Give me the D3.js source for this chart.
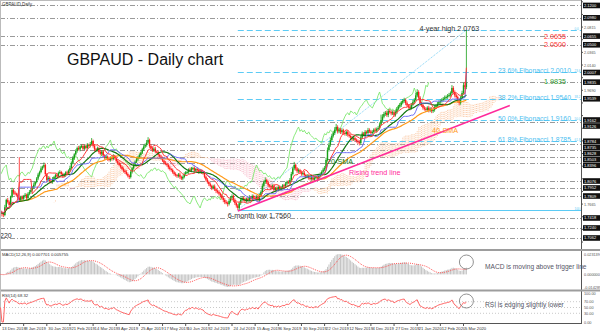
<!DOCTYPE html>
<html>
<head>
<meta charset="utf-8">
<script src="https://cdn.jsdelivr.net/npm/d3@7"></script>
<style>
  body { margin: 0; background: #fff; }
  svg { display: block; font-family: "Liberation Sans", Arial, sans-serif; }
</style>
</head>
<body>
<svg id="chart" width="600" height="332"></svg>
<script>
// ---- GBPAUD daily data (13 Dec 2018 – 9 Mar 2020) ----
const dateLabels = ["13 Dec 2018","8 Jan 2019","30 Jan 2019","21 Feb 2019","14 Mar 2019","3 Apr 2019",
  "25 Apr 2019","17 May 2019","10 Jun 2019","2 Jul 2019","24 Jul 2019","15 Aug 2019","6 Sep 2019",
  "30 Sep 2019","22 Oct 2019","12 Nov 2019","4 Dec 2019","27 Dec 2019","21 Jan 2020","12 Feb 2020","5 Mar 2020"];
const barsPerLabel = 16;

const firstOpen = 1.7560;
const closes = [1.7525,1.7490,1.7471,1.7610,1.7740,1.7700,1.7650,1.7800,1.7916,1.7870,
1.7850,1.7830,1.7780,1.7738,1.7790,1.7760,1.7809,1.7830,1.7774,1.7850,
1.7880,1.7916,1.7960,1.8010,1.8058,1.8120,1.8190,1.8236,1.8300,1.8330,
1.8361,1.8200,1.8094,1.8130,1.8070,1.8058,1.8110,1.8147,1.8180,1.8160,
1.8220,1.8236,1.8200,1.8165,1.8183,1.8230,1.8210,1.8260,1.8307,1.8400,
1.8485,1.8550,1.8610,1.8663,1.8640,1.8690,1.8699,1.8650,1.8700,1.8663,
1.8720,1.8700,1.8734,1.8788,1.8700,1.8640,1.8628,1.8660,1.8592,1.8560,
1.8600,1.8530,1.8485,1.8510,1.8470,1.8450,1.8490,1.8470,1.8520,1.8485,
1.8430,1.8400,1.8361,1.8330,1.8290,1.8260,1.8236,1.8200,1.8170,1.8147,
1.8240,1.8300,1.8361,1.8420,1.8460,1.8500,1.8539,1.8580,1.8640,1.8690,
1.8717,1.8760,1.8806,1.8700,1.8663,1.8620,1.8650,1.8600,1.8592,1.8540,
1.8510,1.8485,1.8440,1.8400,1.8380,1.8361,1.8320,1.8290,1.8272,1.8230,
1.8200,1.8180,1.8165,1.8190,1.8150,1.8120,1.8147,1.8200,1.8230,1.8236,
1.8280,1.8260,1.8300,1.8307,1.8260,1.8290,1.8272,1.8240,1.8260,1.8230,
1.8219,1.8150,1.8100,1.8058,1.8020,1.7990,1.7952,1.7980,1.7930,1.7900,
1.7880,1.7850,1.7820,1.7774,1.7740,1.7700,1.7690,1.7667,1.7720,1.7780,
1.7809,1.7740,1.7685,1.7640,1.7596,1.7680,1.7740,1.7774,1.7750,1.7720,
1.7760,1.7738,1.7790,1.7760,1.7809,1.7780,1.7760,1.7800,1.7738,1.7820,
1.7880,1.7990,1.8060,1.8094,1.8050,1.8000,1.7987,1.7960,1.7990,1.7916,
1.7950,1.7920,1.7970,1.7934,1.7960,1.8000,1.7987,1.8030,1.8060,1.8050,
1.8094,1.8200,1.8300,1.8361,1.8300,1.8250,1.8270,1.8236,1.8200,1.8220,
1.8183,1.8150,1.8170,1.8130,1.8112,1.8140,1.8100,1.8130,1.8150,1.8120,
1.8165,1.8200,1.8240,1.8280,1.8307,1.8450,1.8628,1.8720,1.8806,1.8880,
1.8930,1.8990,1.9037,1.8960,1.8990,1.8948,1.8980,1.8930,1.8912,1.8950,
1.8900,1.8877,1.8850,1.8820,1.8840,1.8806,1.8790,1.8770,1.8752,1.8850,
1.8920,1.8895,1.8950,1.8930,1.8984,1.8960,1.8930,1.8948,1.8990,1.8970,
1.9000,1.9019,1.9080,1.9162,1.9220,1.9268,1.9290,1.9250,1.9320,1.9304,
1.9280,1.9300,1.9251,1.9300,1.9360,1.9400,1.9428,1.9470,1.9500,1.9517,
1.9460,1.9420,1.9400,1.9375,1.9430,1.9480,1.9517,1.9600,1.9660,1.9560,
1.9450,1.9428,1.9380,1.9360,1.9340,1.9380,1.9330,1.9360,1.9320,1.9340,
1.9390,1.9411,1.9450,1.9480,1.9500,1.9517,1.9540,1.9560,1.9571,1.9590,
1.9606,1.9640,1.9731,1.9660,1.9600,1.9571,1.9510,1.9464,1.9560,1.9642,
1.9780,1.9750,1.9835];

// upper / lower shadow lengths in pips
const upWick = [25,18,30,42,20,35,28,15,40,22,30,18,26,720,24,30,19,33,21,27,
35,22,28,40,18,26,31,24,38,20,45,29,17,33,25,22,36,19,28,30,
24,32,20,27,35,18,29,23,41,26,33,21,30,25,38,19,27,34,22,28,
31,20,36,52,25,30,22,28,19,34,26,31,23,29,20,37,24,28,33,21,
26,30,22,35,19,28,24,31,27,20,33,25,29,22,36,24,30,21,27,34,
28,45,50,24,31,22,27,35,20,29,23,32,26,19,30,24,28,33,21,27,
25,30,22,28,34,20,27,31,24,29,22,36,26,23,30,19,28,25,32,21,
27,33,22,29,25,30,21,28,34,24,26,31,20,27,23,29,35,22,40,25,
30,24,28,22,26,33,21,29,25,31,22,27,34,20,28,24,30,23,26,35,
29,40,26,45,24,31,22,28,25,33,21,27,30,24,29,22,26,31,23,28,
34,38,30,55,27,24,31,22,28,26,33,20,29,25,30,23,27,32,21,28,
25,30,27,33,35,40,45,38,42,36,40,44,55,30,35,28,33,26,31,24,
29,27,32,25,30,22,28,26,33,30,36,28,32,25,37,29,26,31,24,35,
28,33,40,95,45,38,32,40,30,36,28,33,27,35,31,29,37,30,34,40,
28,32,26,30,35,38,33,45,50,30,27,33,25,29,31,26,34,28,30,27,
32,29,35,30,28,33,31,36,29,34,38,30,52,33,28,31,27,35,30,40,
45,60,928];
const dnWick = [30,45,38,22,35,26,40,31,24,36,28,33,22,30,27,35,21,29,38,25,
28,33,20,26,31,24,29,35,22,30,27,38,45,28,33,26,30,24,32,27,
35,22,29,31,26,33,24,28,30,22,27,34,25,30,23,36,28,31,26,24,
29,33,27,25,30,38,34,26,31,28,35,24,30,27,33,25,29,32,26,30,
28,34,25,31,27,29,33,24,30,36,26,31,22,28,25,33,27,30,24,29,
26,30,24,33,38,29,27,31,25,34,28,30,26,32,24,29,35,27,31,25,
30,26,33,28,35,27,31,24,29,26,34,22,28,31,25,30,27,33,24,29,
31,27,34,29,35,30,38,26,32,40,28,33,36,30,41,35,28,45,26,30,
33,40,35,38,36,36,30,28,33,26,31,29,25,32,27,30,34,26,29,31,
25,30,27,33,29,35,28,31,26,30,24,33,28,31,27,29,25,32,28,30,
27,31,26,33,40,35,30,28,31,27,33,29,26,30,28,32,27,31,25,29,
28,26,30,27,32,25,30,28,34,26,31,35,29,40,33,36,30,34,28,32,
35,30,33,38,29,34,31,36,42,28,30,26,33,29,27,31,34,28,30,26,
32,29,30,26,35,28,33,31,38,29,34,30,36,28,31,27,30,33,29,32,
35,30,37,42,29,27,31,26,33,40,38,34,36,31,35,30,33,29,36,32,
30,28,33,27,31,29,26,30,28,33,27,31,29,35,37,33,40,42,31,28,
30,35,40];

// horizontal support / resistance levels
const grayLevels = [2.1200,2.0980,2.0655,2.0500,1.9835,1.9126,1.8735,1.8628,1.8503,1.8396,
  1.8076,1.7952,1.7809,1.7418,1.7240,1.7062];
// Fibonacci retracement of the Aug 2019 low -> Mar 2020 high
const fibLow = {bar: 164, price: 1.7560};
const fibHigh = {bar: 322, price: 2.0763};
const fibRatios = [0, 0.236, 0.382, 0.5, 0.618, 1];
const fibTexts = [null, "23.6% Fibonacci 2.0010", "38.2% Fibonacci 1.9540", "50.0% Fibonacci 1.9160", "61.8% Fibonacci 1.8785", null];
const fibTags = ["0.0", "23.6", "38.2", "50.0", "61.8", "100.0"];
const trendLine = [{bar: 164, price: 1.7540}, {bar: 352, price: 1.9420}];
const redLevels = [2.0655, 2.0500];
const lastPrice = 1.9835;
const priceTicks = [2.1265,2.1040,2.0815,2.0590,2.0365,2.0140,1.9915,1.9690,1.9465,1.9240,1.9015,
  1.8790,1.8565,1.8340,1.8115,1.7890,1.7665,1.7440,1.7215,1.6990];
const rsiLevels = [70, 50, 30];
const rsiTicks = [100, 70, 50, 30, 0];

// ---- derived series ----
const PIP = 0.0001;
const n = closes.length;
const opens = closes.map((c, i) => i === 0 ? firstOpen : closes[i - 1]);
const highs = closes.map((c, i) => Math.max(opens[i], c) + upWick[i] * PIP);
const lows = closes.map((c, i) => Math.min(opens[i], c) - dnWick[i] * PIP);

function sma(arr, p) {
  return arr.map((_, i) => d3.mean(arr.slice(Math.max(0, i - p + 1), i + 1)));
}
function midRange(p) {
  return closes.map((_, i) => {
    const s = Math.max(0, i - p + 1);
    return (d3.max(highs.slice(s, i + 1)) + d3.min(lows.slice(s, i + 1))) / 2;
  });
}
function ema(arr, p) {
  const k = 2 / (p + 1); let e = arr[0];
  return arr.map(v => (e = e + k * (v - e)));
}
const sma20 = sma(closes, 20), sma40 = sma(closes, 40);
const tenkan = midRange(9), kijun = midRange(26), spanB = midRange(52);
const spanA = tenkan.map((t, i) => (t + kijun[i]) / 2);
const e12 = ema(closes, 12), e26 = ema(closes, 26);
const macd = e12.map((v, i) => v - e26[i]);
const signal = sma(macd, 9);
const rsi = [50];
{
  let ag = 0, al = 0;
  for (let i = 1; i < n; i++) {
    const ch = closes[i] - closes[i - 1];
    const g = Math.max(ch, 0), l = Math.max(-ch, 0);
    if (i <= 14) { ag = (ag * (i - 1) + g) / i; al = (al * (i - 1) + l) / i; }
    else { ag = (ag * 13 + g) / 14; al = (al * 13 + l) / 14; }
    rsi.push(al === 0 ? 100 : 100 - 100 / (1 + ag / al));
  }
}

// ---- layout ----
const svg = d3.select("#chart");
const axisX = 581;
const main = {top: 0, bottom: 249};
const rsiP = {top: 292, bottom: 322};

const x = d3.scaleLinear().domain([0, (dateLabels.length - 1) * barsPerLabel]).range([0.5, 463.5]);
const y = d3.scaleLinear().domain([1.6866, 2.1297]).range([main.bottom, main.top]);
const mExt = d3.extent(macd.concat(signal));
const yM = d3.scaleLinear().domain(mExt).range([287, 254]);
const yR = d3.scaleLinear().domain([0, 100]).range([rsiP.bottom, rsiP.top + 1]);

const defs = svg.append("defs");
defs.append("clipPath").attr("id", "clipMain").append("rect")
  .attr("x", 0).attr("y", main.top).attr("width", axisX).attr("height", main.bottom - main.top);

const gMain = svg.append("g").attr("clip-path", "url(#clipMain)");

// support / resistance levels
gMain.selectAll("line.lvl").data(grayLevels).join("line")
  .attr("x1", 0).attr("x2", axisX)
  .attr("y1", d => Math.round(y(d)) + 0.5).attr("y2", d => Math.round(y(d)) + 0.5)
  .attr("stroke", "#9a9a9a").attr("stroke-width", 1).attr("stroke-dasharray", "5,2,1,2");

// Ichimoku cloud, shifted 26 bars ahead
const cloud = gMain.append("g").attr("opacity", 0.75);
for (let i = 0; i < n; i++) {
  const xb = x(i + 26);
  cloud.append("line")
    .attr("x1", xb).attr("x2", xb)
    .attr("y1", y(spanA[i])).attr("y2", y(spanB[i]))
    .attr("stroke", spanA[i] >= spanB[i] ? "#f9b98a" : "#f7a9bd")
    .attr("stroke-width", 1).attr("stroke-dasharray", "1,1");
}

// Fibonacci levels
const fibRange = fibHigh.price - fibLow.price;
const fibVals = fibRatios.map(r => fibHigh.price - r * fibRange);
gMain.selectAll("line.fib").data(fibVals).join("line")
  .attr("x1", x(fibLow.bar)).attr("x2", axisX)
  .attr("y1", d => Math.round(y(d)) + 0.5).attr("y2", d => Math.round(y(d)) + 0.5)
  .attr("stroke", "#5ccbf5").attr("stroke-width", 1)
  .attr("stroke-dasharray", (d, i) => i === fibVals.length - 1 ? null : "6,3");
gMain.append("line")
  .attr("x1", x(fibLow.bar)).attr("y1", y(fibLow.price))
  .attr("x2", x(fibHigh.bar)).attr("y2", y(fibHigh.price))
  .attr("stroke", "#7fd3f7").attr("stroke-width", 1).attr("stroke-dasharray", "1,1");

// Chikou span (close shifted 26 bars back)
const lineOf = (arr, shift, ys) => d3.line().x((d, i) => x(i + shift)).y(d => ys(d))(arr);
gMain.append("path").attr("d", lineOf(closes.slice(26), 0, y))
  .attr("fill", "none").attr("stroke", "#7ee86f").attr("stroke-width", 0.9);

// candles
const cand = gMain.append("g");
for (let i = 0; i < n; i++) {
  const up = closes[i] >= opens[i];
  const col = up ? "#16a016" : "#ff1a1a";
  const xc = x(i);
  cand.append("line").attr("x1", xc).attr("x2", xc)
    .attr("y1", y(highs[i])).attr("y2", y(lows[i]))
    .attr("stroke", col).attr("stroke-width", 0.8);
  const yt = y(Math.max(opens[i], closes[i])), yb = y(Math.min(opens[i], closes[i]));
  cand.append("rect").attr("x", xc - 0.7).attr("width", 1.4)
    .attr("y", yt).attr("height", Math.max(1, yb - yt)).attr("fill", col);
}

// moving averages and Ichimoku lines
[[sma40, "#ff9a1a", 1.2], [sma20, "#117711", 1.2], [kijun, "#6d6df5", 1], [tenkan, "#ff3b3b", 1]]
  .forEach(([arr, col, w]) => {
    gMain.append("path").attr("d", lineOf(arr, 0, y))
      .attr("fill", "none").attr("stroke", col).attr("stroke-width", w);
  });

// rising trend line
gMain.append("line")
  .attr("x1", x(trendLine[0].bar)).attr("y1", y(trendLine[0].price))
  .attr("x2", x(trendLine[1].bar)).attr("y2", y(trendLine[1].price))
  .attr("stroke", "#ff2a9a").attr("stroke-width", 1.6);

// ---- annotations ----
svg.append("text").attr("x", 2).attr("y", 6).attr("font-size", 4.5).attr("fill", "#333").text("GBPAUD,Daily");
svg.append("text").attr("x", 67).attr("y", 65).attr("font-size", 16).attr("fill", "#111").text("GBPAUD - Daily chart");
svg.append("text").attr("x", 0).attr("y", 238).attr("font-size", 7).attr("fill", "#333").text("220");

const ann = (t, xx, yy, col, anchor, fs) => svg.append("text").attr("x", xx).attr("y", yy)
  .attr("font-size", fs || 7.2).attr("fill", col).attr("text-anchor", anchor || "start").text(t);
ann("4-year high " + fibHigh.price.toFixed(4), x(fibHigh.bar) - 47, y(fibHigh.price) + 1, "#333");
ann("6-month low " + fibLow.price.toFixed(4), x(fibLow.bar) - 10, y(fibLow.price) + 8, "#333");
redLevels.forEach(v => ann(v.toFixed(4), 566, y(v) + 2.5, "#ff3333", "end"));
ann(lastPrice.toFixed(4), 566, y(lastPrice) + 1.5, "#2e9a2e", "end");
fibTexts.forEach((t, i) => { if (t) ann(t, 498, y(fibVals[i]) + 1, "#4cc0f0", "start", 6.8); });
fibTags.forEach((t, i) => svg.append("text").attr("x", 574.5).attr("y", y(fibVals[i]) - 0.5)
  .attr("font-size", 3).attr("fill", "#5ccbf5").text(t));
ann("40-SMA", 432, 133, "#ff9a1a");
ann("20-SMA", 327, 164, "#117711");
ann("Rising trend line", 349, 175, "#ff2a9a");

// ---- price axis ----
svg.append("rect").attr("x", axisX).attr("y", 0).attr("width", 600 - axisX).attr("height", 332).attr("fill", "#fff");
svg.append("line").attr("x1", axisX + 0.5).attr("x2", axisX + 0.5).attr("y1", 0).attr("y2", 323)
  .attr("stroke", "#555").attr("stroke-width", 1);

// boxed level labels, spread so neighbouring boxes do not collide
const boxLevels = grayLevels.concat(fibVals.slice(1, 5)).sort((a, b) => b - a);
let prevY = -10;
const boxYs = boxLevels.map(v => {
  const yy = Math.max(y(v), prevY + 6);
  prevY = yy;
  return yy;
});
priceTicks.forEach(v => {
  const yy = y(v);
  svg.append("line").attr("x1", axisX).attr("x2", axisX + 2).attr("y1", yy).attr("y2", yy).attr("stroke", "#555");
  if (boxYs.every(b => Math.abs(b - yy) > 6)) {
    svg.append("text").attr("x", axisX + 3).attr("y", yy + 1.5).attr("font-size", 3.8).attr("fill", "#555").text(v.toFixed(4));
  }
});
boxLevels.forEach((v, k) => {
  svg.append("rect").attr("x", axisX + 2).attr("y", boxYs[k] - 2.8).attr("width", 17).attr("height", 5.6).attr("fill", "#111");
  svg.append("text").attr("x", axisX + 3).attr("y", boxYs[k] + 1.5).attr("font-size", 4).attr("fill", "#fff").text(v.toFixed(4));
});

// panel separators
[[249, 2], [289.5, 2]].forEach(([yy, h]) => svg.append("rect").attr("x", 0).attr("y", yy).attr("width", 600).attr("height", h).attr("fill", "#9d9d9d"));
svg.append("line").attr("x1", 0).attr("x2", axisX).attr("y1", 0.5).attr("y2", 0.5).attr("stroke", "#bbb");
svg.append("line").attr("x1", 0.5).attr("x2", 0.5).attr("y1", 0).attr("y2", 323).attr("stroke", "#bbb");

// ---- MACD panel ----
const gM = svg.append("g");
for (let i = 0; i < n; i++) {
  const y0 = yM(0), y1 = yM(macd[i]);
  gM.append("rect").attr("x", x(i) - 0.5).attr("width", 1)
    .attr("y", Math.min(y0, y1)).attr("height", Math.abs(y1 - y0)).attr("fill", "#c4c4c4");
}
gM.append("path").attr("d", lineOf(signal, 0, yM)).attr("fill", "none")
  .attr("stroke", "#ff5555").attr("stroke-width", 1).attr("stroke-dasharray", "1,1");
svg.append("text").attr("x", 2).attr("y", 256).attr("font-size", 4.2).attr("fill", "#333")
  .text("MACD(12,26,9) " + macd[n - 1].toFixed(6) + " " + signal[n - 1].toFixed(6));
[mExt[1], 0, mExt[0]].forEach(v => {
  svg.append("text").attr("x", axisX + 3).attr("y", yM(v) + 1.5).attr("font-size", 3.8).attr("fill", "#555").text(v.toFixed(6));
});
svg.append("circle").attr("cx", x(n - 1)).attr("cy", 262).attr("r", 7).attr("fill", "none").attr("stroke", "#777").attr("stroke-width", 0.8);
svg.append("text").attr("x", 485).attr("y", 269).attr("font-size", 6.6).attr("fill", "#556").text("MACD is moving above trigger line");

// ---- RSI panel ----
rsiLevels.forEach(v => svg.append("line").attr("x1", 0).attr("x2", axisX).attr("y1", yR(v)).attr("y2", yR(v))
  .attr("stroke", "#bbb").attr("stroke-width", 0.8).attr("stroke-dasharray", "1,2"));
svg.append("path").attr("d", lineOf(rsi, 0, yR)).attr("fill", "none").attr("stroke", "#ff6464").attr("stroke-width", 1);
svg.append("text").attr("x", 2).attr("y", 297).attr("font-size", 4.2).attr("fill", "#333").text("RSI(14) " + rsi[n - 1].toFixed(2));
rsiTicks.forEach(v => svg.append("text").attr("x", axisX + 3).attr("y", yR(v) + 1.5).attr("font-size", 3.8).attr("fill", "#555").text(v.toFixed(2)));
svg.append("circle").attr("cx", x(n - 1)).attr("cy", 301).attr("r", 7).attr("fill", "none").attr("stroke", "#777").attr("stroke-width", 0.8);
svg.append("text").attr("x", 485).attr("y", 307).attr("font-size", 6.6).attr("fill", "#556").text("RSI is edging slightly lower");

// ---- date axis ----
svg.append("line").attr("x1", 0).attr("x2", axisX + 1).attr("y1", 323.5).attr("y2", 323.5).attr("stroke", "#555");
dateLabels.forEach((d, k) => {
  const xx = x(k * barsPerLabel);
  svg.append("line").attr("x1", xx).attr("x2", xx).attr("y1", 323).attr("y2", 326).attr("stroke", "#555");
  svg.append("text").attr("x", xx + 1.5).attr("y", 330).attr("font-size", 4.2).attr("fill", "#333").text(d);
});
</script>
</body>
</html>
